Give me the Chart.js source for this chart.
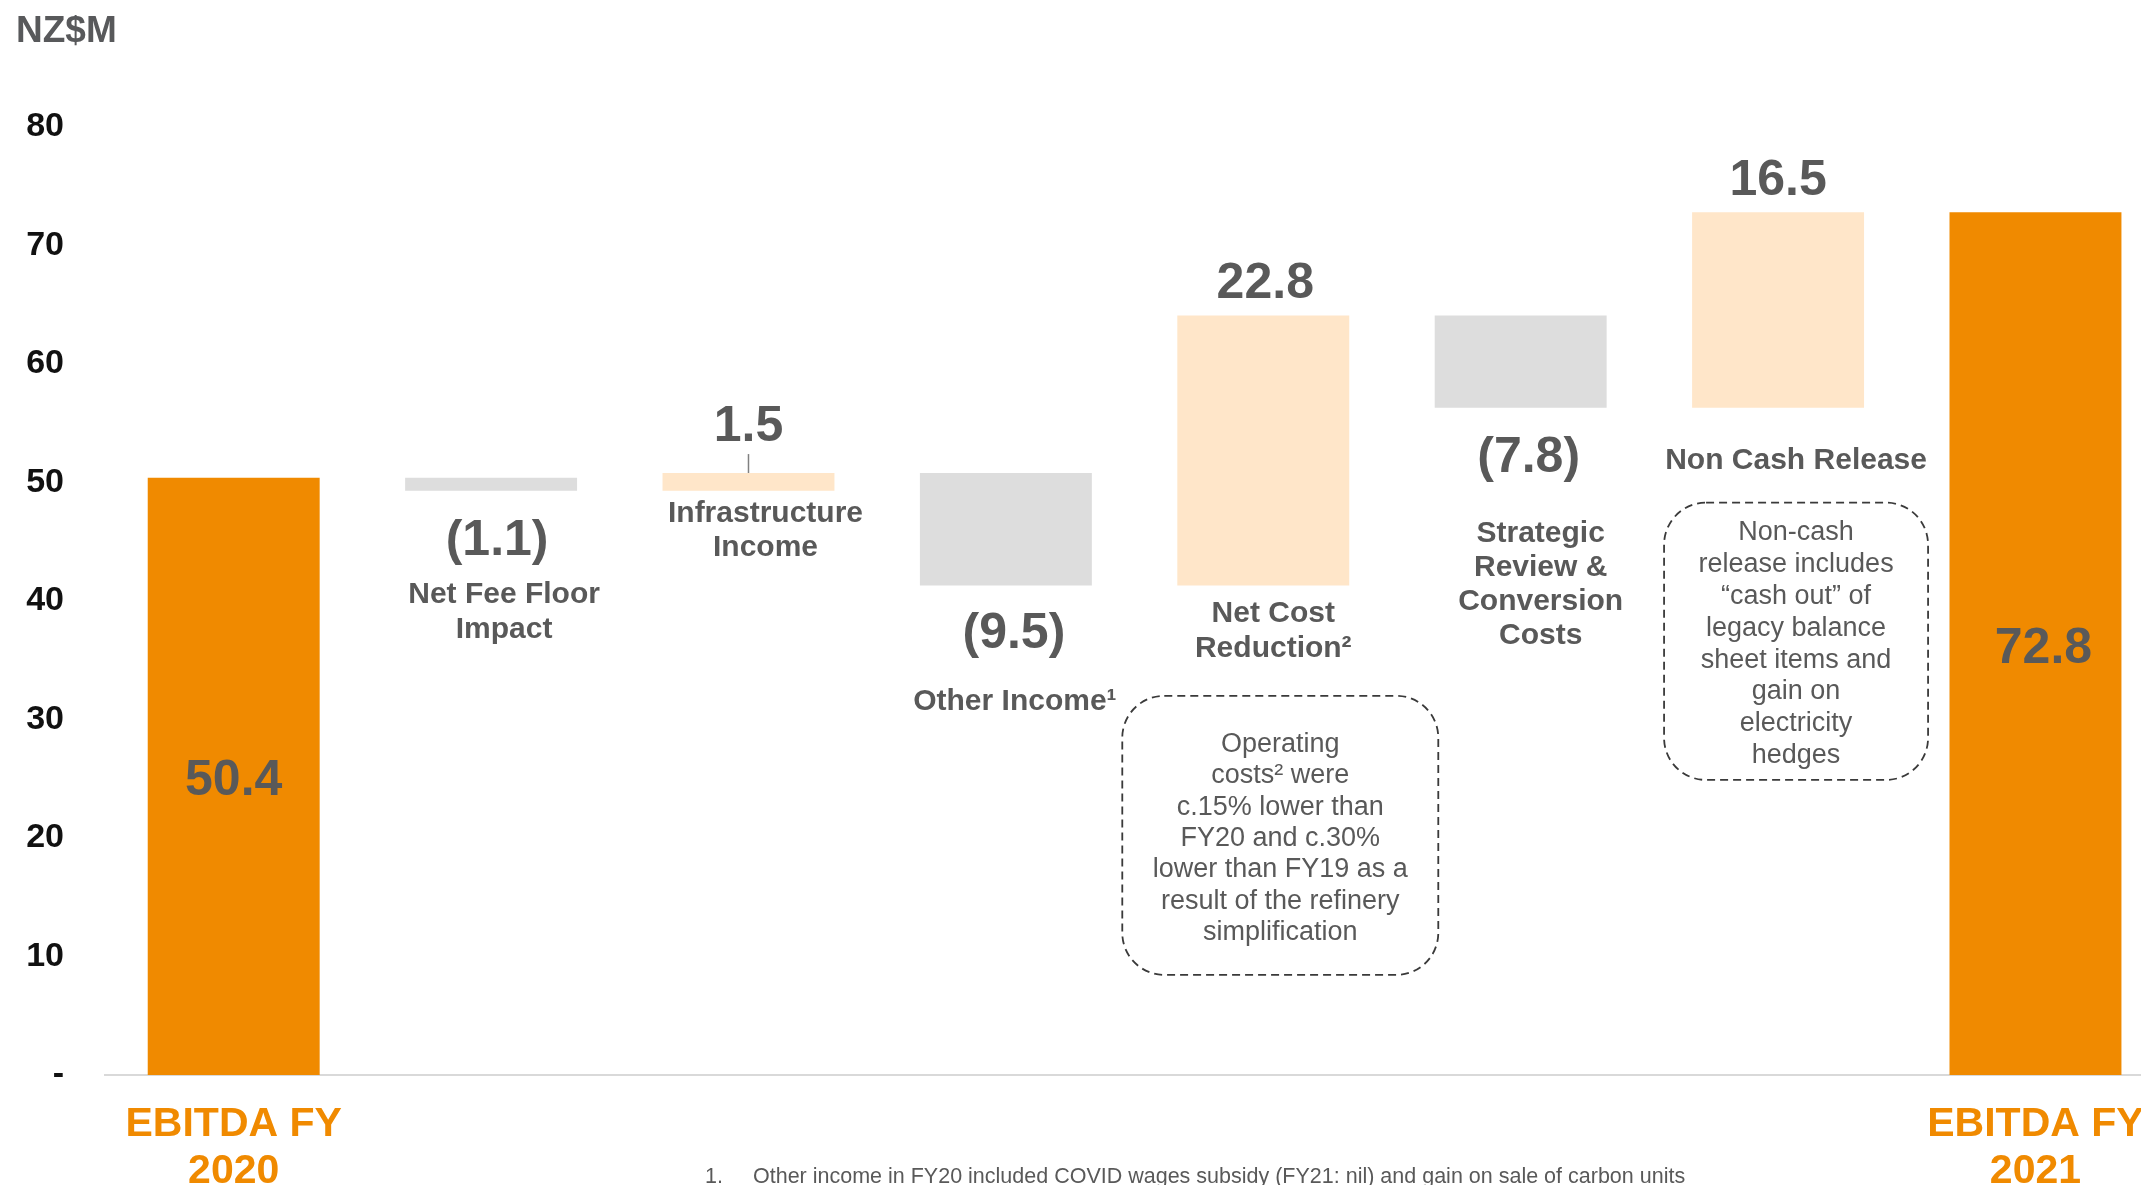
<!DOCTYPE html>
<html>
<head>
<meta charset="utf-8">
<script src="https://cdn.jsdelivr.net/npm/chart.js@4.4.1/dist/chart.umd.min.js"></script>
<style>
    html, body { margin: 0; padding: 0; background: #fff; overflow: hidden; }
    #wrap { width: 2141px; height: 1185px; }
</style>
</head>
<body>
<div id="wrap"><canvas id="bridgeChart" width="2141" height="1185"></canvas></div>
<script>
// Chart data
const categories = ['EBITDA FY 2020', 'Net Fee Floor Impact', 'Infrastructure Income', 'Other Income',
    'Net Cost Reduction', 'Strategic Review & Conversion Costs', 'Non Cash Release', 'EBITDA FY 2021'];
const startValue = 50.4;
const changes = [-1.1, 1.5, -9.5, 22.8, -7.8, 16.5];
const endValue = 72.8;
const yTickValues = [0, 10, 20, 30, 40, 50, 60, 70, 80];
const categoryLines = [
    ['EBITDA FY', '2020'],
    ['Net Fee Floor', 'Impact'],
    ['Infrastructure', 'Income'],
    ['Other Income\u00B9'],
    ['Net Cost', 'Reduction\u00B2'],
    ['Strategic', 'Review &', 'Conversion', 'Costs'],
    ['Non Cash Release'],
    ['EBITDA FY', '2021']
];
const noteCosts = ['Operating', 'costs\u00B2 were', 'c.15% lower than', 'FY20 and c.30%',
    'lower than FY19 as a', 'result of the refinery', 'simplification'];
const noteNonCash = ['Non-cash', 'release includes', '\u201Ccash out\u201D of', 'legacy balance',
    'sheet items and', 'gain on', 'electricity', 'hedges'];
const footnote = 'Other income in FY20 included COVID wages subsidy (FY21: nil) and gain on sale of carbon units';

const colors = {
    total: '#F08A00',
    up: '#FFE6C9',
    down: '#DDDDDD',
    text: '#595959'
};
const FONT = '"Liberation Sans", Arial, sans-serif';

// Build floating ranges for the bridge
let running = startValue;
const ranges = [[0, startValue]];
const barColors = [colors.total];
changes.forEach(c => {
    const next = Math.round((running + c) * 10) / 10;
    ranges.push([Math.min(running, next), Math.max(running, next)]);
    barColors.push(c >= 0 ? colors.up : colors.down);
    running = next;
});
ranges.push([0, endValue]);
barColors.push(colors.total);
const allValues = [startValue].concat(changes, [endValue]);

function formatValue(v) {
    return v < 0 ? '(' + Math.abs(v).toFixed(1) + ')' : v.toFixed(1);
}

// label placement: [x offset px, baseline in axis units]
const valuePos = [[0, 23.6], [6, 43.9], [0, 53.5], [8, 36.0], [2, 65.6], [8, 50.9], [0, 74.3], [8, 34.75]];
const labelPos = [null, [13, 39.85, 35], [17, 46.7, 34], [9, 30.8, 35], [10, 38.25, 35], [20, 45.0, 34], [18, 51.1, 35], null];

function drawLines(ctx, lines, x, y0, step) {
    lines.forEach((t, k) => ctx.fillText(t, x, y0 + k * step));
}

function dashedBox(ctx, x0, y0, x1, y1, r) {
    ctx.beginPath();
    ctx.moveTo(x0 + r, y0);
    ctx.lineTo(x1 - r, y0);
    ctx.arcTo(x1, y0, x1, y0 + r, r);
    ctx.lineTo(x1, y1 - r);
    ctx.arcTo(x1, y1, x1 - r, y1, r);
    ctx.lineTo(x0 + r, y1);
    ctx.arcTo(x0, y1, x0, y1 - r, r);
    ctx.lineTo(x0, y0 + r);
    ctx.arcTo(x0, y0, x0 + r, y0, r);
    ctx.closePath();
    ctx.stroke();
}

const bridgeAnnotations = {
    id: 'bridgeAnnotations',
    afterDraw(chart) {
        const { ctx, scales: { x, y } } = chart;
        ctx.save();
        ctx.textAlign = 'center';
        ctx.textBaseline = 'alphabetic';
        ctx.fillStyle = colors.text;

        // values
        ctx.font = 'bold 50px ' + FONT;
        allValues.forEach((v, i) => {
            const p = valuePos[i];
            ctx.fillText(formatValue(v), x.getPixelForValue(i) + p[0], y.getPixelForValue(p[1]));
        });

        // category names next to the bars
        ctx.font = 'bold 30px ' + FONT;
        categoryLines.forEach((lines, i) => {
            const p = labelPos[i];
            if (!p) return;
            drawLines(ctx, lines, x.getPixelForValue(i) + p[0], y.getPixelForValue(p[1]), p[2]);
        });

        // connector between 1.5 and its bar
        ctx.strokeStyle = '#808080';
        ctx.lineWidth = 1.5;
        ctx.beginPath();
        ctx.moveTo(x.getPixelForValue(2), y.getPixelForValue(52.4));
        ctx.lineTo(x.getPixelForValue(2), y.getPixelForValue(ranges[2][1]));
        ctx.stroke();

        // dashed note boxes
        ctx.strokeStyle = '#3a3a3a';
        ctx.lineWidth = 1.8;
        ctx.setLineDash([8, 5]);
        const cA = x.getPixelForValue(4) + 17;
        dashedBox(ctx, cA - 158, y.getPixelForValue(32.0), cA + 158, y.getPixelForValue(8.45), 42);
        const cB = x.getPixelForValue(6) + 18;
        dashedBox(ctx, cB - 132, y.getPixelForValue(48.3), cB + 132, y.getPixelForValue(24.9), 42);
        ctx.setLineDash([]);

        ctx.font = '27px ' + FONT;
        drawLines(ctx, noteCosts, cA, y.getPixelForValue(27.25), 31.3);
        drawLines(ctx, noteNonCash, cB, y.getPixelForValue(45.15), 31.9);

        // unit label
        ctx.textAlign = 'left';
        ctx.fillStyle = '#58595B';
        ctx.font = 'bold 37px ' + FONT;
        ctx.fillText('NZ$M', 16, 42);

        // footnote
        ctx.fillStyle = colors.text;
        ctx.font = '21.5px ' + FONT;
        ctx.fillText('1.', 705, 1183);
        ctx.fillText(footnote, 753, 1183);
        ctx.restore();
    }
};

new Chart(document.getElementById('bridgeChart'), {
    type: 'bar',
    data: {
        datasets: [{
            data: ranges.map((r, i) => ({ x: i, y: r })),
            backgroundColor: barColors,
            borderWidth: 0,
            categoryPercentage: 1,
            barPercentage: 0.668
        }]
    },
    options: {
        responsive: false,
        animation: false,
        devicePixelRatio: 1,
        layout: { padding: { top: 127, left: 0, right: 0, bottom: 0 } },
        plugins: {
            legend: { display: false },
            tooltip: { enabled: false }
        },
        scales: {
            x: {
                type: 'linear',
                offset: false,
                min: -0.5,
                max: 7.41,
                grid: { display: false, drawTicks: false, offset: false },
                border: { display: true, color: '#D9D9D9', width: 2 },
                afterBuildTicks: axis => { axis.ticks = categories.map((c, i) => ({ value: i })); },
                afterFit: axis => { axis.height = 110; axis.paddingLeft = 0; axis.paddingRight = 0; },
                ticks: {
                    autoSkip: false,
                    maxRotation: 0,
                    padding: 26,
                    color: colors.total,
                    font: { family: FONT, size: 41, weight: 'bold', lineHeight: 1.15 },
                    callback: v => (v === 0 || v === categories.length - 1) ? categoryLines[v] : ''
                }
            },
            y: {
                min: 0,
                max: 80,
                grid: { display: false, drawTicks: false },
                border: { display: false },
                afterBuildTicks: axis => { axis.ticks = yTickValues.map(v => ({ value: v })); },
                afterFit: axis => { axis.width = 105; },
                ticks: {
                    padding: 41,
                    color: '#111111',
                    font: { family: FONT, size: 34, weight: 'bold' },
                    callback: v => v === 0 ? '-' : v
                }
            }
        }
    },
    plugins: [bridgeAnnotations]
});
</script>
</body>
</html>
